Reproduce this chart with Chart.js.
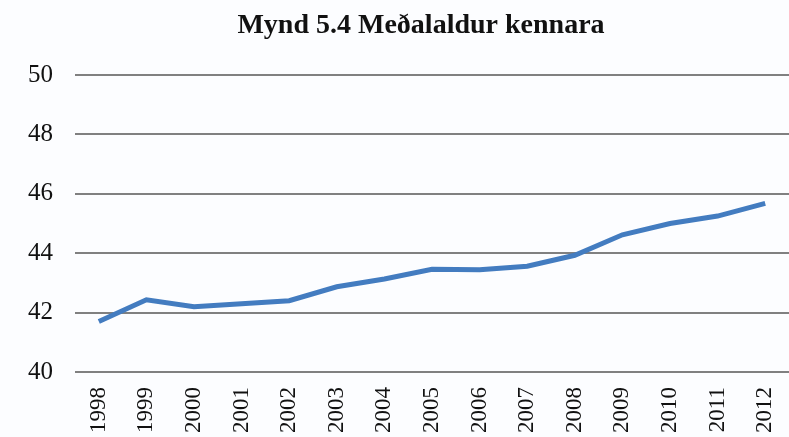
<!DOCTYPE html>
<html>
<head>
<meta charset="utf-8">
<script src="https://cdn.jsdelivr.net/npm/chart.js@4"></script>
<style>
  html, body { margin: 0; padding: 0; background: #fcfdff; }
  #wrap { width: 789px; height: 437px; }
</style>
</head>
<body>
<div id="wrap"><canvas id="chart" width="789" height="437"></canvas></div>
<script>
// Mynd 5.4 - average teacher age by year
const chartTitle = 'Mynd 5.4 Meðalaldur kennara';
const years = ['1998', '1999', '2000', '2001', '2002', '2003', '2004', '2005',
  '2006', '2007', '2008', '2009', '2010', '2011', '2012'];
const avgAge = [41.7, 42.43, 42.2, 42.3, 42.4, 42.87, 43.13, 43.46, 43.44, 43.56, 43.93, 44.62, 45.0, 45.25, 45.68];
const yTicks = [40, 42, 44, 46, 48, 50];

const serif = '"Liberation Serif", "DejaVu Serif", serif';

// title sits a bit left of the plot centre in the original, so draw it ourselves
const titlePlugin = {
  id: 'offsetTitle',
  afterDraw(chart) {
    const { ctx, chartArea } = chart;
    ctx.save();
    ctx.font = 'bold 28px ' + serif;
    ctx.fillStyle = '#111';
    ctx.textAlign = 'center';
    ctx.textBaseline = 'middle';
    ctx.fillText(chartTitle, (chartArea.left + chartArea.right) / 2 - 11, 26);
    ctx.restore();
  },
};

const ctx = document.getElementById('chart').getContext('2d');
new Chart(ctx, {
  type: 'line',
  data: {
    labels: years,
    datasets: [{
      data: avgAge,
      borderColor: '#437cc0',
      borderWidth: 5,
      pointRadius: 0,
      tension: 0,
      fill: false,
    }],
  },
  plugins: [titlePlugin],
  options: {
    responsive: false,
    animation: false,
    layout: { padding: { left: 6, right: -5, top: 75, bottom: 0 } },
    plugins: {
      legend: { display: false },
      tooltip: { enabled: false },
      title: { display: false },
    },
    scales: {
      x: {
        offset: true,
        grid: { display: false },
        border: { display: false },
        afterFit: (scale) => {
          scale.paddingLeft = 0;
          scale.paddingRight = 0;
          scale.height = 65;
        },
        ticks: {
          color: '#111',
          font: { family: serif, size: 23 },
          minRotation: 90,
          maxRotation: 90,
          padding: 7,
          autoSkip: false,
        },
      },
      y: {
        min: 40,
        max: 50,
        afterBuildTicks: (axis) => { axis.ticks = yTicks.map((v) => ({ value: v })); },
        grid: { color: '#808080', lineWidth: 2, drawTicks: false },
        border: { display: false },
        ticks: {
          color: '#111',
          font: { family: serif, size: 25 },
          padding: 22,
        },
      },
    },
  },
});
</script>
</body>
</html>
